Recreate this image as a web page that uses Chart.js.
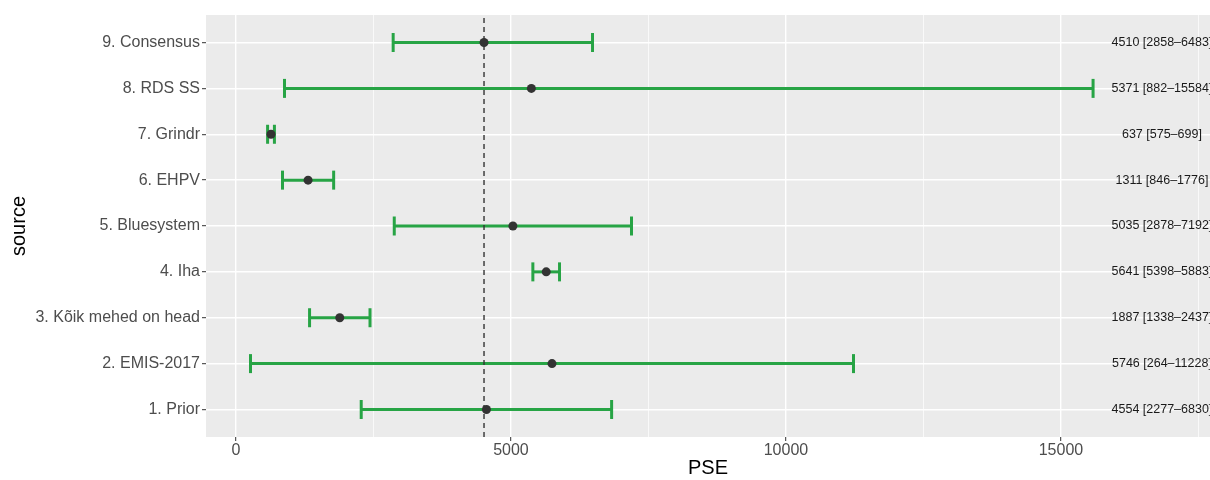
<!DOCTYPE html>
<html>
<head>
<meta charset="utf-8">
<script src="https://cdn.jsdelivr.net/npm/chart.js@4"></script>
<style>
  html, body { margin: 0; padding: 0; background: #fff; overflow: hidden; }
  #wrap { width: 1210px; height: 480px; }
  #chart { display: block; }
</style>
</head>
<body>
<div id="wrap"><canvas id="chart" width="1210" height="480"></canvas></div>
<script>
// Sources, bottom (1) to top (9)
const sources = ["1. Prior", "2. EMIS-2017", "3. Kõik mehed on head", "4. Iha", "5. Bluesystem",
  "6. EHPV", "7. Grindr", "8. RDS SS", "9. Consensus"];
const estimates = [4554, 5746, 1887, 5641, 5035, 1311, 637, 5371, 4510];
const lower = [2277, 264, 1338, 5398, 2878, 846, 575, 882, 2858];
const upper = [6830, 11228, 2437, 5883, 7192, 1776, 699, 15584, 6483];
const consensus = 4510;
const xTicks = [0, 2500, 5000, 7500, 10000, 12500, 15000, 17500];

const FONT = "'Liberation Sans', Arial, Helvetica, sans-serif";
const GREEN = "#27a445";
const labelX = 16836;

// grey ggplot-style panel
const panelBg = {
  id: "panelBg",
  beforeDraw(chart) {
    const { ctx, chartArea: a } = chart;
    ctx.save();
    ctx.fillStyle = "#ebebeb";
    ctx.fillRect(a.left, a.top, a.right - a.left, a.bottom - a.top);
    ctx.restore();
  }
};

// "est [lo–hi]" text on the right, clipped to the panel
const rowLabels = {
  id: "rowLabels",
  afterDatasetsDraw(chart) {
    const { ctx, chartArea: a, scales } = chart;
    ctx.save();
    ctx.beginPath();
    ctx.rect(a.left, a.top, a.right - a.left, a.bottom - a.top);
    ctx.clip();
    ctx.font = "12.5px " + FONT;
    ctx.fillStyle = "#1a1a1a";
    ctx.textAlign = "center";
    ctx.textBaseline = "middle";
    sources.forEach((s, i) => {
      const txt = estimates[i] + " [" + lower[i] + "\u2013" + upper[i] + "]";
      ctx.fillText(txt, scales.x.getPixelForValue(labelX), scales.y.getPixelForValue(i + 1));
    });
    ctx.restore();
  }
};

const errorBars = sources.map((s, i) => ({
  type: "line",
  label: s,
  data: [{ x: lower[i], y: i + 1 }, { x: upper[i], y: i + 1 }],
  borderColor: GREEN,
  borderWidth: 3,
  pointStyle: "line",
  rotation: 90,
  pointRadius: 9.5,
  pointHoverRadius: 9.5,
  pointBorderColor: GREEN,
  pointBorderWidth: 3,
  order: 3
}));

new Chart(document.getElementById("chart"), {
  type: "scatter",
  data: {
    datasets: [
      {
        label: "estimate",
        data: estimates.map((v, i) => ({ x: v, y: i + 1 })),
        backgroundColor: "#333333",
        borderWidth: 0,
        pointRadius: 4.5,
        pointHoverRadius: 4.5,
        order: 0
      },
      {
        type: "line",
        label: "consensus",
        data: [{ x: consensus, y: 0.4 }, { x: consensus, y: 9.6 }],
        borderColor: "#333333",
        borderWidth: 1.4,
        borderDash: [5, 4],
        pointRadius: 0,
        order: 1
      },
      ...errorBars
    ]
  },
  options: {
    responsive: false,
    animation: false,
    layout: { autoPadding: false, padding: { top: 15, right: 0, left: 0, bottom: 0 } },
    plugins: { legend: { display: false }, tooltip: { enabled: false } },
    scales: {
      x: {
        type: "linear",
        min: -545,
        max: 17710,
        afterBuildTicks: sc => { sc.ticks = xTicks.map(v => ({ value: v })); },
        afterFit: sc => { sc.height = 43; sc.paddingLeft = 0; sc.paddingRight = 0; },
        border: { display: false },
        grid: {
          color: "#ffffff",
          lineWidth: c => (c.tick && c.tick.value % 5000 === 0 ? 1.4 : 0.7),
          tickColor: c => (c.tick && c.tick.value % 5000 === 0 ? "#333333" : "rgba(0,0,0,0)"),
          tickLength: 4,
          tickWidth: 1
        },
        ticks: {
          color: "#4d4d4d",
          font: { family: FONT, size: 16 },
          padding: 0,
          maxRotation: 0,
          autoSkip: false,
          callback: v => (v % 5000 === 0 ? String(v) : "")
        },
        title: {
          display: true,
          text: "PSE",
          color: "#000",
          font: { family: FONT, size: 20 },
          padding: { top: 0, bottom: 0 }
        }
      },
      y: {
        type: "linear",
        min: 0.4,
        max: 9.6,
        afterBuildTicks: sc => { sc.ticks = sources.map((s, i) => ({ value: i + 1 })); },
        afterFit: sc => { sc.width = 206; sc.paddingTop = 0; sc.paddingBottom = 0; },
        border: { display: false },
        grid: {
          color: "#ffffff",
          lineWidth: 1.4,
          tickColor: "#333333",
          tickLength: 4,
          tickWidth: 1
        },
        ticks: {
          color: "#4d4d4d",
          font: { family: FONT, size: 16 },
          padding: 2,
          autoSkip: false,
          callback: v => sources[Math.round(v) - 1] || ""
        },
        title: {
          display: true,
          text: "source",
          color: "#000",
          font: { family: FONT, size: 20 },
          padding: { top: 7, bottom: 0 }
        }
      }
    }
  },
  plugins: [panelBg, rowLabels]
});
</script>
</body>
</html>
